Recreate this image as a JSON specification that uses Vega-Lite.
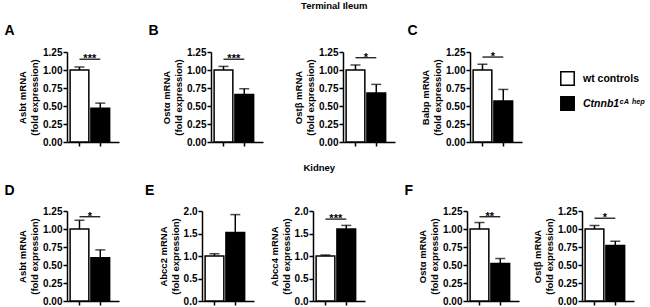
{
"$schema": "https://vega.github.io/schema/vega-lite/v6.json",
"padding": {"left": 4, "top": 0, "right": 0, "bottom": 0},
"datasets": {
"bars": [
{"panel": "A", "group": "wt controls", "value": 1.00, "upper": 1.04},
{"panel": "A", "group": "Ctnnb1\u1d9c\u1d2c \u02b0\u1d49\u1d56", "value": 0.47, "upper": 0.54},
{"panel": "B1", "group": "wt controls", "value": 1.00, "upper": 1.05},
{"panel": "B1", "group": "Ctnnb1\u1d9c\u1d2c \u02b0\u1d49\u1d56", "value": 0.66, "upper": 0.74},
{"panel": "B2", "group": "wt controls", "value": 1.00, "upper": 1.07},
{"panel": "B2", "group": "Ctnnb1\u1d9c\u1d2c \u02b0\u1d49\u1d56", "value": 0.68, "upper": 0.80},
{"panel": "C", "group": "wt controls", "value": 1.00, "upper": 1.08},
{"panel": "C", "group": "Ctnnb1\u1d9c\u1d2c \u02b0\u1d49\u1d56", "value": 0.57, "upper": 0.73},
{"panel": "D", "group": "wt controls", "value": 1.00, "upper": 1.12},
{"panel": "D", "group": "Ctnnb1\u1d9c\u1d2c \u02b0\u1d49\u1d56", "value": 0.60, "upper": 0.71},
{"panel": "E1", "group": "wt controls", "value": 1.00, "upper": 1.05},
{"panel": "E1", "group": "Ctnnb1\u1d9c\u1d2c \u02b0\u1d49\u1d56", "value": 1.52, "upper": 1.92},
{"panel": "E2", "group": "wt controls", "value": 1.00, "upper": 1.02},
{"panel": "E2", "group": "Ctnnb1\u1d9c\u1d2c \u02b0\u1d49\u1d56", "value": 1.60, "upper": 1.68},
{"panel": "F1", "group": "wt controls", "value": 1.00, "upper": 1.09},
{"panel": "F1", "group": "Ctnnb1\u1d9c\u1d2c \u02b0\u1d49\u1d56", "value": 0.52, "upper": 0.59},
{"panel": "F2", "group": "wt controls", "value": 1.00, "upper": 1.05},
{"panel": "F2", "group": "Ctnnb1\u1d9c\u1d2c \u02b0\u1d49\u1d56", "value": 0.77, "upper": 0.83}
],
"sig": [
{"panel": "A", "g1": "wt controls", "g2": "Ctnnb1\u1d9c\u1d2c \u02b0\u1d49\u1d56", "y": 1.15, "label": "***"},
{"panel": "B1", "g1": "wt controls", "g2": "Ctnnb1\u1d9c\u1d2c \u02b0\u1d49\u1d56", "y": 1.15, "label": "***"},
{"panel": "B2", "g1": "wt controls", "g2": "Ctnnb1\u1d9c\u1d2c \u02b0\u1d49\u1d56", "y": 1.17, "label": "*"},
{"panel": "C", "g1": "wt controls", "g2": "Ctnnb1\u1d9c\u1d2c \u02b0\u1d49\u1d56", "y": 1.18, "label": "*"},
{"panel": "D", "g1": "wt controls", "g2": "Ctnnb1\u1d9c\u1d2c \u02b0\u1d49\u1d56", "y": 1.17, "label": "*"},
{"panel": "E2", "g1": "wt controls", "g2": "Ctnnb1\u1d9c\u1d2c \u02b0\u1d49\u1d56", "y": 1.82, "label": "***"},
{"panel": "F1", "g1": "wt controls", "g2": "Ctnnb1\u1d9c\u1d2c \u02b0\u1d49\u1d56", "y": 1.17, "label": "**"},
{"panel": "F2", "g1": "wt controls", "g2": "Ctnnb1\u1d9c\u1d2c \u02b0\u1d49\u1d56", "y": 1.15, "label": "*"}
]
},
"resolve": {"scale": {"fill": "independent"}},
"spacing": 15,
"vconcat": [
{
"title": {"text": "Terminal Ileum", "fontSize": 9.5, "anchor": "middle", "offset": 14},
"resolve": {"scale": {"fill": "independent"}},
"spacing": 12,
"hconcat": [
{"spacing": 29, "hconcat": [
{"title": {"text": "A", "anchor": "start", "fontSize": 14, "offset": 9, "dx": -13},
"width": 52, "height": 90, "layer": [
{"data": {"name": "bars"}, "transform": [{"filter": "datum.panel == 'A'"}], "mark": {"type": "bar", "stroke": "black", "strokeWidth": 1.5},
"encoding": {"x": {"field": "group", "type": "nominal", "sort": null, "scale": {"domain": ["wt controls", "Ctnnb1\u1d9c\u1d2c \u02b0\u1d49\u1d56"], "paddingInner": 0.1, "paddingOuter": 0.3, "align": 0.25}, "axis": {"labels": false, "title": null}},
"y": {"field": "value", "type": "quantitative", "scale": {"domain": [0, 1.25], "nice": false}, "axis": {"values": [0, 0.25, 0.5, 0.75, 1, 1.25], "format": ".2f", "title": ["Asbt mRNA", "(fold expression)"]}},
"fill": {"field": "group", "type": "nominal", "scale": {"domain": ["wt controls", "Ctnnb1\u1d9c\u1d2c \u02b0\u1d49\u1d56"], "range": ["white", "black"]}, "legend": null}}},
{"data": {"name": "bars"}, "transform": [{"filter": "datum.panel == 'A'"}], "mark": {"type": "rule", "color": "black", "strokeWidth": 1.5},
"encoding": {"x": {"field": "group", "type": "nominal", "sort": null, "axis": {"labels": false, "title": null}}, "y": {"field": "value", "type": "quantitative", "axis": {"values": [0, 0.25, 0.5, 0.75, 1, 1.25], "format": ".2f", "title": ["Asbt mRNA", "(fold expression)"]}}, "y2": {"field": "upper"}}},
{"data": {"name": "bars"}, "transform": [{"filter": "datum.panel == 'A'"}], "mark": {"type": "tick", "orient": "horizontal", "color": "black", "size": 10, "thickness": 1.5},
"encoding": {"x": {"field": "group", "type": "nominal", "sort": null, "axis": {"labels": false, "title": null}}, "y": {"field": "upper", "type": "quantitative", "axis": {"values": [0, 0.25, 0.5, 0.75, 1, 1.25], "format": ".2f", "title": ["Asbt mRNA", "(fold expression)"]}}}},
{"data": {"name": "sig"}, "transform": [{"filter": "datum.panel == 'A'"}], "mark": {"type": "rule", "color": "black", "strokeWidth": 1.2},
"encoding": {"x": {"field": "g1", "type": "nominal", "sort": null, "bandPosition": 0.5, "axis": {"labels": false, "title": null}}, "x2": {"field": "g2", "bandPosition": 0.5}, "y": {"field": "y", "type": "quantitative", "axis": {"values": [0, 0.25, 0.5, 0.75, 1, 1.25], "format": ".2f", "title": ["Asbt mRNA", "(fold expression)"]}}}},
{"data": {"name": "sig"}, "transform": [{"filter": "datum.panel == 'A'"}], "mark": {"type": "text", "fontWeight": "bold", "fontSize": 11, "baseline": "alphabetic", "dy": 3, "color": "black"},
"encoding": {"x": {"field": "g1", "type": "nominal", "sort": null, "bandPosition": 1.05, "axis": {"labels": false, "title": null}}, "y": {"field": "y", "type": "quantitative", "axis": {"values": [0, 0.25, 0.5, 0.75, 1, 1.25], "format": ".2f", "title": ["Asbt mRNA", "(fold expression)"]}}, "text": {"field": "label"}}}
]},
{"title": {"text": "B", "anchor": "start", "fontSize": 14, "offset": 9, "dx": -13},
"spacing": 30,
"hconcat": [
{"width": 52, "height": 90, "layer": [
{"data": {"name": "bars"}, "transform": [{"filter": "datum.panel == 'B1'"}], "mark": {"type": "bar", "stroke": "black", "strokeWidth": 1.5},
"encoding": {"x": {"field": "group", "type": "nominal", "sort": null, "scale": {"domain": ["wt controls", "Ctnnb1\u1d9c\u1d2c \u02b0\u1d49\u1d56"], "paddingInner": 0.1, "paddingOuter": 0.3, "align": 0.25}, "axis": {"labels": false, "title": null}},
"y": {"field": "value", "type": "quantitative", "scale": {"domain": [0, 1.25], "nice": false}, "axis": {"values": [0, 0.25, 0.5, 0.75, 1, 1.25], "format": ".2f", "title": ["Ost\u03b1 mRNA", "(fold expression)"]}},
"fill": {"field": "group", "type": "nominal", "scale": {"domain": ["wt controls", "Ctnnb1\u1d9c\u1d2c \u02b0\u1d49\u1d56"], "range": ["white", "black"]}, "legend": null}}},
{"data": {"name": "bars"}, "transform": [{"filter": "datum.panel == 'B1'"}], "mark": {"type": "rule", "color": "black", "strokeWidth": 1.5},
"encoding": {"x": {"field": "group", "type": "nominal", "sort": null, "axis": {"labels": false, "title": null}}, "y": {"field": "value", "type": "quantitative", "axis": {"values": [0, 0.25, 0.5, 0.75, 1, 1.25], "format": ".2f", "title": ["Ost\u03b1 mRNA", "(fold expression)"]}}, "y2": {"field": "upper"}}},
{"data": {"name": "bars"}, "transform": [{"filter": "datum.panel == 'B1'"}], "mark": {"type": "tick", "orient": "horizontal", "color": "black", "size": 10, "thickness": 1.5},
"encoding": {"x": {"field": "group", "type": "nominal", "sort": null, "axis": {"labels": false, "title": null}}, "y": {"field": "upper", "type": "quantitative", "axis": {"values": [0, 0.25, 0.5, 0.75, 1, 1.25], "format": ".2f", "title": ["Ost\u03b1 mRNA", "(fold expression)"]}}}},
{"data": {"name": "sig"}, "transform": [{"filter": "datum.panel == 'B1'"}], "mark": {"type": "rule", "color": "black", "strokeWidth": 1.2},
"encoding": {"x": {"field": "g1", "type": "nominal", "sort": null, "bandPosition": 0.5, "axis": {"labels": false, "title": null}}, "x2": {"field": "g2", "bandPosition": 0.5}, "y": {"field": "y", "type": "quantitative", "axis": {"values": [0, 0.25, 0.5, 0.75, 1, 1.25], "format": ".2f", "title": ["Ost\u03b1 mRNA", "(fold expression)"]}}}},
{"data": {"name": "sig"}, "transform": [{"filter": "datum.panel == 'B1'"}], "mark": {"type": "text", "fontWeight": "bold", "fontSize": 11, "baseline": "alphabetic", "dy": 3, "color": "black"},
"encoding": {"x": {"field": "g1", "type": "nominal", "sort": null, "bandPosition": 1.05, "axis": {"labels": false, "title": null}}, "y": {"field": "y", "type": "quantitative", "axis": {"values": [0, 0.25, 0.5, 0.75, 1, 1.25], "format": ".2f", "title": ["Ost\u03b1 mRNA", "(fold expression)"]}}, "text": {"field": "label"}}}
]},
{"width": 52, "height": 90, "layer": [
{"data": {"name": "bars"}, "transform": [{"filter": "datum.panel == 'B2'"}], "mark": {"type": "bar", "stroke": "black", "strokeWidth": 1.5},
"encoding": {"x": {"field": "group", "type": "nominal", "sort": null, "scale": {"domain": ["wt controls", "Ctnnb1\u1d9c\u1d2c \u02b0\u1d49\u1d56"], "paddingInner": 0.1, "paddingOuter": 0.3, "align": 0.25}, "axis": {"labels": false, "title": null}},
"y": {"field": "value", "type": "quantitative", "scale": {"domain": [0, 1.25], "nice": false}, "axis": {"values": [0, 0.25, 0.5, 0.75, 1, 1.25], "format": ".2f", "title": ["Ost\u03b2 mRNA", "(fold expression)"]}},
"fill": {"field": "group", "type": "nominal", "scale": {"domain": ["wt controls", "Ctnnb1\u1d9c\u1d2c \u02b0\u1d49\u1d56"], "range": ["white", "black"]}, "legend": null}}},
{"data": {"name": "bars"}, "transform": [{"filter": "datum.panel == 'B2'"}], "mark": {"type": "rule", "color": "black", "strokeWidth": 1.5},
"encoding": {"x": {"field": "group", "type": "nominal", "sort": null, "axis": {"labels": false, "title": null}}, "y": {"field": "value", "type": "quantitative", "axis": {"values": [0, 0.25, 0.5, 0.75, 1, 1.25], "format": ".2f", "title": ["Ost\u03b2 mRNA", "(fold expression)"]}}, "y2": {"field": "upper"}}},
{"data": {"name": "bars"}, "transform": [{"filter": "datum.panel == 'B2'"}], "mark": {"type": "tick", "orient": "horizontal", "color": "black", "size": 10, "thickness": 1.5},
"encoding": {"x": {"field": "group", "type": "nominal", "sort": null, "axis": {"labels": false, "title": null}}, "y": {"field": "upper", "type": "quantitative", "axis": {"values": [0, 0.25, 0.5, 0.75, 1, 1.25], "format": ".2f", "title": ["Ost\u03b2 mRNA", "(fold expression)"]}}}},
{"data": {"name": "sig"}, "transform": [{"filter": "datum.panel == 'B2'"}], "mark": {"type": "rule", "color": "black", "strokeWidth": 1.2},
"encoding": {"x": {"field": "g1", "type": "nominal", "sort": null, "bandPosition": 0.5, "axis": {"labels": false, "title": null}}, "x2": {"field": "g2", "bandPosition": 0.5}, "y": {"field": "y", "type": "quantitative", "axis": {"values": [0, 0.25, 0.5, 0.75, 1, 1.25], "format": ".2f", "title": ["Ost\u03b2 mRNA", "(fold expression)"]}}}},
{"data": {"name": "sig"}, "transform": [{"filter": "datum.panel == 'B2'"}], "mark": {"type": "text", "fontWeight": "bold", "fontSize": 11, "baseline": "alphabetic", "dy": 3, "color": "black"},
"encoding": {"x": {"field": "g1", "type": "nominal", "sort": null, "bandPosition": 1.05, "axis": {"labels": false, "title": null}}, "y": {"field": "y", "type": "quantitative", "axis": {"values": [0, 0.25, 0.5, 0.75, 1, 1.25], "format": ".2f", "title": ["Ost\u03b2 mRNA", "(fold expression)"]}}, "text": {"field": "label"}}}
]}
]}
]},
{"title": {"text": "C", "anchor": "start", "fontSize": 14, "offset": 9, "dx": -13},
"width": 52, "height": 90, "layer": [
{"data": {"name": "bars"}, "transform": [{"filter": "datum.panel == 'C'"}], "mark": {"type": "bar", "stroke": "black", "strokeWidth": 1.5},
"encoding": {"x": {"field": "group", "type": "nominal", "sort": null, "scale": {"domain": ["wt controls", "Ctnnb1\u1d9c\u1d2c \u02b0\u1d49\u1d56"], "paddingInner": 0.1, "paddingOuter": 0.3, "align": 0.25}, "axis": {"labels": false, "title": null}},
"y": {"field": "value", "type": "quantitative", "scale": {"domain": [0, 1.25], "nice": false}, "axis": {"values": [0, 0.25, 0.5, 0.75, 1, 1.25], "format": ".2f", "title": ["Babp mRNA", "(fold expression)"]}},
"fill": {"field": "group", "type": "nominal", "scale": {"domain": ["wt controls", "Ctnnb1\u1d9c\u1d2c \u02b0\u1d49\u1d56"], "range": ["white", "black"]},
"legend": {"title": null, "orient": "right", "offset": 19, "padding": 19, "symbolType": "square", "symbolSize": 180, "symbolStrokeColor": "black", "symbolStrokeWidth": 1.5, "labelFontSize": 10.5, "labelFontWeight": "bold", "labelColor": "black", "labelFont": "Liberation Sans", "labelOffset": 8, "rowPadding": 4,
"encode": {"labels": {"update": {"fontStyle": {"signal": "datum.value == 'wt controls' ? 'normal' : 'italic'"}}}}}}}},
{"data": {"name": "bars"}, "transform": [{"filter": "datum.panel == 'C'"}], "mark": {"type": "rule", "color": "black", "strokeWidth": 1.5},
"encoding": {"x": {"field": "group", "type": "nominal", "sort": null, "axis": {"labels": false, "title": null}}, "y": {"field": "value", "type": "quantitative", "axis": {"values": [0, 0.25, 0.5, 0.75, 1, 1.25], "format": ".2f", "title": ["Babp mRNA", "(fold expression)"]}}, "y2": {"field": "upper"}}},
{"data": {"name": "bars"}, "transform": [{"filter": "datum.panel == 'C'"}], "mark": {"type": "tick", "orient": "horizontal", "color": "black", "size": 10, "thickness": 1.5},
"encoding": {"x": {"field": "group", "type": "nominal", "sort": null, "axis": {"labels": false, "title": null}}, "y": {"field": "upper", "type": "quantitative", "axis": {"values": [0, 0.25, 0.5, 0.75, 1, 1.25], "format": ".2f", "title": ["Babp mRNA", "(fold expression)"]}}}},
{"data": {"name": "sig"}, "transform": [{"filter": "datum.panel == 'C'"}], "mark": {"type": "rule", "color": "black", "strokeWidth": 1.2},
"encoding": {"x": {"field": "g1", "type": "nominal", "sort": null, "bandPosition": 0.5, "axis": {"labels": false, "title": null}}, "x2": {"field": "g2", "bandPosition": 0.5}, "y": {"field": "y", "type": "quantitative", "axis": {"values": [0, 0.25, 0.5, 0.75, 1, 1.25], "format": ".2f", "title": ["Babp mRNA", "(fold expression)"]}}}},
{"data": {"name": "sig"}, "transform": [{"filter": "datum.panel == 'C'"}], "mark": {"type": "text", "fontWeight": "bold", "fontSize": 11, "baseline": "alphabetic", "dy": 3, "color": "black"},
"encoding": {"x": {"field": "g1", "type": "nominal", "sort": null, "bandPosition": 1.05, "axis": {"labels": false, "title": null}}, "y": {"field": "y", "type": "quantitative", "axis": {"values": [0, 0.25, 0.5, 0.75, 1, 1.25], "format": ".2f", "title": ["Babp mRNA", "(fold expression)"]}}, "text": {"field": "label"}}}
]}
]
},
{
"title": {"text": "Kidney", "fontSize": 9.5, "anchor": "middle", "offset": 12},
"resolve": {"scale": {"fill": "independent"}},
"spacing": 39,
"hconcat": [
{"spacing": 26, "hconcat": [
{"title": {"text": "D", "anchor": "start", "fontSize": 14, "offset": 8, "dx": -13},
"width": 52, "height": 90, "layer": [
{"data": {"name": "bars"}, "transform": [{"filter": "datum.panel == 'D'"}], "mark": {"type": "bar", "stroke": "black", "strokeWidth": 1.5},
"encoding": {"x": {"field": "group", "type": "nominal", "sort": null, "scale": {"domain": ["wt controls", "Ctnnb1\u1d9c\u1d2c \u02b0\u1d49\u1d56"], "paddingInner": 0.1, "paddingOuter": 0.3, "align": 0.25}, "axis": {"labels": false, "title": null}},
"y": {"field": "value", "type": "quantitative", "scale": {"domain": [0, 1.25], "nice": false}, "axis": {"values": [0, 0.25, 0.5, 0.75, 1, 1.25], "format": ".2f", "title": ["Asbt mRNA", "(fold expression)"]}},
"fill": {"field": "group", "type": "nominal", "scale": {"domain": ["wt controls", "Ctnnb1\u1d9c\u1d2c \u02b0\u1d49\u1d56"], "range": ["white", "black"]}, "legend": null}}},
{"data": {"name": "bars"}, "transform": [{"filter": "datum.panel == 'D'"}], "mark": {"type": "rule", "color": "black", "strokeWidth": 1.5},
"encoding": {"x": {"field": "group", "type": "nominal", "sort": null, "axis": {"labels": false, "title": null}}, "y": {"field": "value", "type": "quantitative", "axis": {"values": [0, 0.25, 0.5, 0.75, 1, 1.25], "format": ".2f", "title": ["Asbt mRNA", "(fold expression)"]}}, "y2": {"field": "upper"}}},
{"data": {"name": "bars"}, "transform": [{"filter": "datum.panel == 'D'"}], "mark": {"type": "tick", "orient": "horizontal", "color": "black", "size": 10, "thickness": 1.5},
"encoding": {"x": {"field": "group", "type": "nominal", "sort": null, "axis": {"labels": false, "title": null}}, "y": {"field": "upper", "type": "quantitative", "axis": {"values": [0, 0.25, 0.5, 0.75, 1, 1.25], "format": ".2f", "title": ["Asbt mRNA", "(fold expression)"]}}}},
{"data": {"name": "sig"}, "transform": [{"filter": "datum.panel == 'D'"}], "mark": {"type": "rule", "color": "black", "strokeWidth": 1.2},
"encoding": {"x": {"field": "g1", "type": "nominal", "sort": null, "bandPosition": 0.5, "axis": {"labels": false, "title": null}}, "x2": {"field": "g2", "bandPosition": 0.5}, "y": {"field": "y", "type": "quantitative", "axis": {"values": [0, 0.25, 0.5, 0.75, 1, 1.25], "format": ".2f", "title": ["Asbt mRNA", "(fold expression)"]}}}},
{"data": {"name": "sig"}, "transform": [{"filter": "datum.panel == 'D'"}], "mark": {"type": "text", "fontWeight": "bold", "fontSize": 11, "baseline": "alphabetic", "dy": 3, "color": "black"},
"encoding": {"x": {"field": "g1", "type": "nominal", "sort": null, "bandPosition": 1.05, "axis": {"labels": false, "title": null}}, "y": {"field": "y", "type": "quantitative", "axis": {"values": [0, 0.25, 0.5, 0.75, 1, 1.25], "format": ".2f", "title": ["Asbt mRNA", "(fold expression)"]}}, "text": {"field": "label"}}}
]},
{"title": {"text": "E", "anchor": "start", "fontSize": 14, "offset": 8, "dx": -13},
"spacing": 15,
"hconcat": [
{"width": 52, "height": 90, "layer": [
{"data": {"name": "bars"}, "transform": [{"filter": "datum.panel == 'E1'"}], "mark": {"type": "bar", "stroke": "black", "strokeWidth": 1.5},
"encoding": {"x": {"field": "group", "type": "nominal", "sort": null, "scale": {"domain": ["wt controls", "Ctnnb1\u1d9c\u1d2c \u02b0\u1d49\u1d56"], "paddingInner": 0.1, "paddingOuter": 0.3, "align": 0.25}, "axis": {"labels": false, "title": null}},
"y": {"field": "value", "type": "quantitative", "scale": {"domain": [0, 2], "nice": false}, "axis": {"values": [0, 0.5, 1, 1.5, 2], "format": ".1f", "title": ["Abcc2 mRNA", "(fold expression)"]}},
"fill": {"field": "group", "type": "nominal", "scale": {"domain": ["wt controls", "Ctnnb1\u1d9c\u1d2c \u02b0\u1d49\u1d56"], "range": ["white", "black"]}, "legend": null}}},
{"data": {"name": "bars"}, "transform": [{"filter": "datum.panel == 'E1'"}], "mark": {"type": "rule", "color": "black", "strokeWidth": 1.5},
"encoding": {"x": {"field": "group", "type": "nominal", "sort": null, "axis": {"labels": false, "title": null}}, "y": {"field": "value", "type": "quantitative", "axis": {"values": [0, 0.5, 1, 1.5, 2], "format": ".1f", "title": ["Abcc2 mRNA", "(fold expression)"]}}, "y2": {"field": "upper"}}},
{"data": {"name": "bars"}, "transform": [{"filter": "datum.panel == 'E1'"}], "mark": {"type": "tick", "orient": "horizontal", "color": "black", "size": 10, "thickness": 1.5},
"encoding": {"x": {"field": "group", "type": "nominal", "sort": null, "axis": {"labels": false, "title": null}}, "y": {"field": "upper", "type": "quantitative", "axis": {"values": [0, 0.5, 1, 1.5, 2], "format": ".1f", "title": ["Abcc2 mRNA", "(fold expression)"]}}}}
]},
{"width": 52, "height": 90, "layer": [
{"data": {"name": "bars"}, "transform": [{"filter": "datum.panel == 'E2'"}], "mark": {"type": "bar", "stroke": "black", "strokeWidth": 1.5},
"encoding": {"x": {"field": "group", "type": "nominal", "sort": null, "scale": {"domain": ["wt controls", "Ctnnb1\u1d9c\u1d2c \u02b0\u1d49\u1d56"], "paddingInner": 0.1, "paddingOuter": 0.3, "align": 0.25}, "axis": {"labels": false, "title": null}},
"y": {"field": "value", "type": "quantitative", "scale": {"domain": [0, 2], "nice": false}, "axis": {"values": [0, 0.5, 1, 1.5, 2], "format": ".1f", "title": ["Abcc4 mRNA", "(fold expression)"]}},
"fill": {"field": "group", "type": "nominal", "scale": {"domain": ["wt controls", "Ctnnb1\u1d9c\u1d2c \u02b0\u1d49\u1d56"], "range": ["white", "black"]}, "legend": null}}},
{"data": {"name": "bars"}, "transform": [{"filter": "datum.panel == 'E2'"}], "mark": {"type": "rule", "color": "black", "strokeWidth": 1.5},
"encoding": {"x": {"field": "group", "type": "nominal", "sort": null, "axis": {"labels": false, "title": null}}, "y": {"field": "value", "type": "quantitative", "axis": {"values": [0, 0.5, 1, 1.5, 2], "format": ".1f", "title": ["Abcc4 mRNA", "(fold expression)"]}}, "y2": {"field": "upper"}}},
{"data": {"name": "bars"}, "transform": [{"filter": "datum.panel == 'E2'"}], "mark": {"type": "tick", "orient": "horizontal", "color": "black", "size": 10, "thickness": 1.5},
"encoding": {"x": {"field": "group", "type": "nominal", "sort": null, "axis": {"labels": false, "title": null}}, "y": {"field": "upper", "type": "quantitative", "axis": {"values": [0, 0.5, 1, 1.5, 2], "format": ".1f", "title": ["Abcc4 mRNA", "(fold expression)"]}}}},
{"data": {"name": "sig"}, "transform": [{"filter": "datum.panel == 'E2'"}], "mark": {"type": "rule", "color": "black", "strokeWidth": 1.2},
"encoding": {"x": {"field": "g1", "type": "nominal", "sort": null, "bandPosition": 0.5, "axis": {"labels": false, "title": null}}, "x2": {"field": "g2", "bandPosition": 0.5}, "y": {"field": "y", "type": "quantitative", "axis": {"values": [0, 0.5, 1, 1.5, 2], "format": ".1f", "title": ["Abcc4 mRNA", "(fold expression)"]}}}},
{"data": {"name": "sig"}, "transform": [{"filter": "datum.panel == 'E2'"}], "mark": {"type": "text", "fontWeight": "bold", "fontSize": 11, "baseline": "alphabetic", "dy": 3, "color": "black"},
"encoding": {"x": {"field": "g1", "type": "nominal", "sort": null, "bandPosition": 1.05, "axis": {"labels": false, "title": null}}, "y": {"field": "y", "type": "quantitative", "axis": {"values": [0, 0.5, 1, 1.5, 2], "format": ".1f", "title": ["Abcc4 mRNA", "(fold expression)"]}}, "text": {"field": "label"}}}
]}
]}
]},
{"title": {"text": "F", "anchor": "start", "fontSize": 14, "offset": 8, "dx": -13},
"spacing": 13,
"hconcat": [
{"width": 52, "height": 90, "layer": [
{"data": {"name": "bars"}, "transform": [{"filter": "datum.panel == 'F1'"}], "mark": {"type": "bar", "stroke": "black", "strokeWidth": 1.5},
"encoding": {"x": {"field": "group", "type": "nominal", "sort": null, "scale": {"domain": ["wt controls", "Ctnnb1\u1d9c\u1d2c \u02b0\u1d49\u1d56"], "paddingInner": 0.1, "paddingOuter": 0.3, "align": 0.25}, "axis": {"labels": false, "title": null}},
"y": {"field": "value", "type": "quantitative", "scale": {"domain": [0, 1.25], "nice": false}, "axis": {"values": [0, 0.25, 0.5, 0.75, 1, 1.25], "format": ".2f", "title": ["Ost\u03b1 mRNA", "(fold expression)"]}},
"fill": {"field": "group", "type": "nominal", "scale": {"domain": ["wt controls", "Ctnnb1\u1d9c\u1d2c \u02b0\u1d49\u1d56"], "range": ["white", "black"]}, "legend": null}}},
{"data": {"name": "bars"}, "transform": [{"filter": "datum.panel == 'F1'"}], "mark": {"type": "rule", "color": "black", "strokeWidth": 1.5},
"encoding": {"x": {"field": "group", "type": "nominal", "sort": null, "axis": {"labels": false, "title": null}}, "y": {"field": "value", "type": "quantitative", "axis": {"values": [0, 0.25, 0.5, 0.75, 1, 1.25], "format": ".2f", "title": ["Ost\u03b1 mRNA", "(fold expression)"]}}, "y2": {"field": "upper"}}},
{"data": {"name": "bars"}, "transform": [{"filter": "datum.panel == 'F1'"}], "mark": {"type": "tick", "orient": "horizontal", "color": "black", "size": 10, "thickness": 1.5},
"encoding": {"x": {"field": "group", "type": "nominal", "sort": null, "axis": {"labels": false, "title": null}}, "y": {"field": "upper", "type": "quantitative", "axis": {"values": [0, 0.25, 0.5, 0.75, 1, 1.25], "format": ".2f", "title": ["Ost\u03b1 mRNA", "(fold expression)"]}}}},
{"data": {"name": "sig"}, "transform": [{"filter": "datum.panel == 'F1'"}], "mark": {"type": "rule", "color": "black", "strokeWidth": 1.2},
"encoding": {"x": {"field": "g1", "type": "nominal", "sort": null, "bandPosition": 0.5, "axis": {"labels": false, "title": null}}, "x2": {"field": "g2", "bandPosition": 0.5}, "y": {"field": "y", "type": "quantitative", "axis": {"values": [0, 0.25, 0.5, 0.75, 1, 1.25], "format": ".2f", "title": ["Ost\u03b1 mRNA", "(fold expression)"]}}}},
{"data": {"name": "sig"}, "transform": [{"filter": "datum.panel == 'F1'"}], "mark": {"type": "text", "fontWeight": "bold", "fontSize": 11, "baseline": "alphabetic", "dy": 3, "color": "black"},
"encoding": {"x": {"field": "g1", "type": "nominal", "sort": null, "bandPosition": 1.05, "axis": {"labels": false, "title": null}}, "y": {"field": "y", "type": "quantitative", "axis": {"values": [0, 0.25, 0.5, 0.75, 1, 1.25], "format": ".2f", "title": ["Ost\u03b1 mRNA", "(fold expression)"]}}, "text": {"field": "label"}}}
]},
{"width": 52, "height": 90, "layer": [
{"data": {"name": "bars"}, "transform": [{"filter": "datum.panel == 'F2'"}], "mark": {"type": "bar", "stroke": "black", "strokeWidth": 1.5},
"encoding": {"x": {"field": "group", "type": "nominal", "sort": null, "scale": {"domain": ["wt controls", "Ctnnb1\u1d9c\u1d2c \u02b0\u1d49\u1d56"], "paddingInner": 0.1, "paddingOuter": 0.3, "align": 0.25}, "axis": {"labels": false, "title": null}},
"y": {"field": "value", "type": "quantitative", "scale": {"domain": [0, 1.25], "nice": false}, "axis": {"values": [0, 0.25, 0.5, 0.75, 1, 1.25], "format": ".2f", "title": ["Ost\u03b2 mRNA", "(fold expression)"]}},
"fill": {"field": "group", "type": "nominal", "scale": {"domain": ["wt controls", "Ctnnb1\u1d9c\u1d2c \u02b0\u1d49\u1d56"], "range": ["white", "black"]}, "legend": null}}},
{"data": {"name": "bars"}, "transform": [{"filter": "datum.panel == 'F2'"}], "mark": {"type": "rule", "color": "black", "strokeWidth": 1.5},
"encoding": {"x": {"field": "group", "type": "nominal", "sort": null, "axis": {"labels": false, "title": null}}, "y": {"field": "value", "type": "quantitative", "axis": {"values": [0, 0.25, 0.5, 0.75, 1, 1.25], "format": ".2f", "title": ["Ost\u03b2 mRNA", "(fold expression)"]}}, "y2": {"field": "upper"}}},
{"data": {"name": "bars"}, "transform": [{"filter": "datum.panel == 'F2'"}], "mark": {"type": "tick", "orient": "horizontal", "color": "black", "size": 10, "thickness": 1.5},
"encoding": {"x": {"field": "group", "type": "nominal", "sort": null, "axis": {"labels": false, "title": null}}, "y": {"field": "upper", "type": "quantitative", "axis": {"values": [0, 0.25, 0.5, 0.75, 1, 1.25], "format": ".2f", "title": ["Ost\u03b2 mRNA", "(fold expression)"]}}}},
{"data": {"name": "sig"}, "transform": [{"filter": "datum.panel == 'F2'"}], "mark": {"type": "rule", "color": "black", "strokeWidth": 1.2},
"encoding": {"x": {"field": "g1", "type": "nominal", "sort": null, "bandPosition": 0.5, "axis": {"labels": false, "title": null}}, "x2": {"field": "g2", "bandPosition": 0.5}, "y": {"field": "y", "type": "quantitative", "axis": {"values": [0, 0.25, 0.5, 0.75, 1, 1.25], "format": ".2f", "title": ["Ost\u03b2 mRNA", "(fold expression)"]}}}},
{"data": {"name": "sig"}, "transform": [{"filter": "datum.panel == 'F2'"}], "mark": {"type": "text", "fontWeight": "bold", "fontSize": 11, "baseline": "alphabetic", "dy": 3, "color": "black"},
"encoding": {"x": {"field": "g1", "type": "nominal", "sort": null, "bandPosition": 1.05, "axis": {"labels": false, "title": null}}, "y": {"field": "y", "type": "quantitative", "axis": {"values": [0, 0.25, 0.5, 0.75, 1, 1.25], "format": ".2f", "title": ["Ost\u03b2 mRNA", "(fold expression)"]}}, "text": {"field": "label"}}}
]}
]}
]
}
],
"config": {
"font": "Liberation Sans",
"background": "white",
"view": {"stroke": null},
"axis": {"domainColor": "black", "domainWidth": 1.5, "tickColor": "black", "tickWidth": 1.5, "tickSize": 4, "labelColor": "black", "labelFont": "Liberation Sans", "labelFontSize": 10, "labelFontWeight": "bold", "labelPadding": 1, "labelFlush": false, "labelOverlap": false, "titleColor": "black", "titleFont": "Liberation Sans", "titleFontSize": 9.5, "titleFontWeight": "bold", "titlePadding": 3, "titleLineHeight": 12, "grid": false},
"title": {"font": "Liberation Sans", "fontWeight": "bold", "color": "black"}
}
}
